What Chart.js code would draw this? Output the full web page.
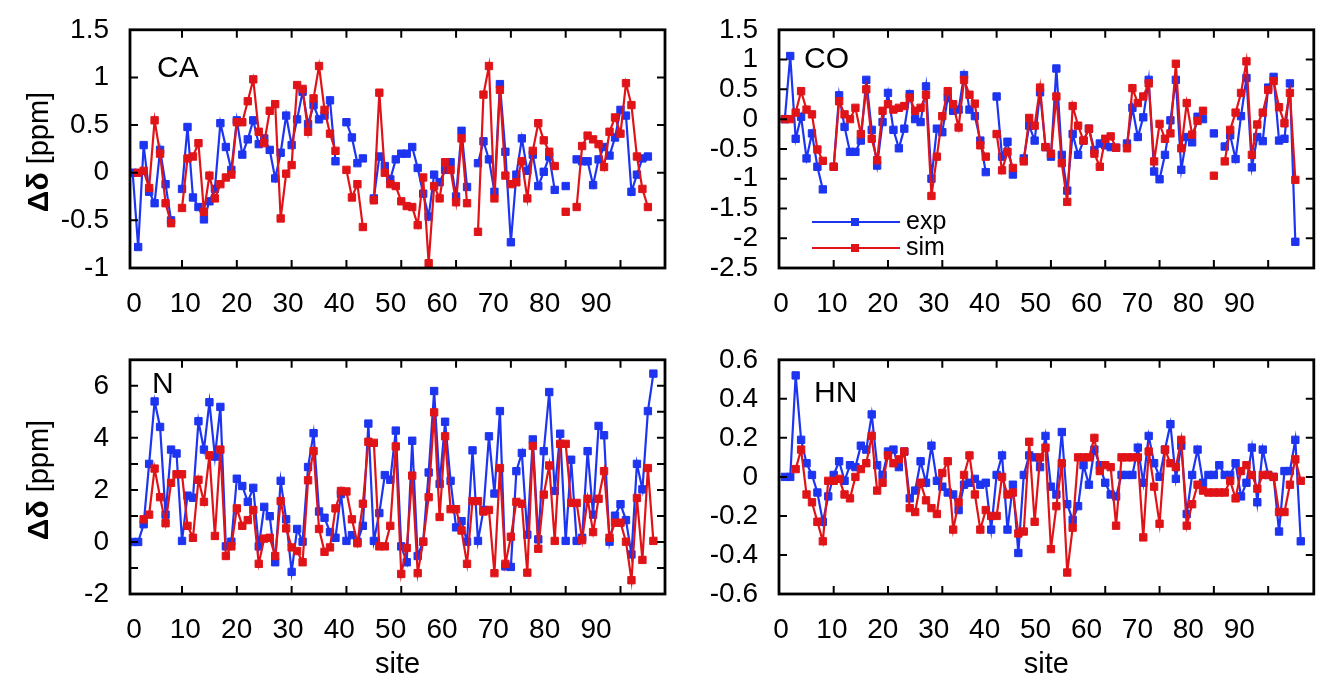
<!DOCTYPE html>
<html>
<head>
<meta charset="utf-8">
<script src="https://cdn.jsdelivr.net/npm/chart.js@4.4.1/dist/chart.umd.min.js"></script>
<style>
  html, body { margin: 0; padding: 0; background: #fff; }
  #wrap { position: relative; width: 1320px; height: 682px; overflow: hidden; }
  canvas { position: absolute; }
</style>
</head>
<body>
<div id="wrap">
  <canvas id="ca" width="680" height="330" style="left:0;top:0"></canvas>
  <canvas id="co" width="640" height="330" style="left:680px;top:0"></canvas>
  <canvas id="n" width="680" height="352" style="left:0;top:330px"></canvas>
  <canvas id="hn" width="640" height="352" style="left:680px;top:330px"></canvas>
</div>
<script>
const sites = [1,2,3,4,5,6,7,8,9,10,11,12,13,14,15,16,17,18,19,20,21,22,23,24,25,26,27,28,29,30,
  31,32,33,34,35,36,37,38,39,40,41,42,43,44,45,46,47,48,49,50,51,52,53,54,55,56,57,58,59,60,
  61,62,63,64,65,66,67,68,69,70,71,72,73,74,75,76,77,78,79,80,81,82,83,84,85,86,87,88,89,90,
  91,92,93,94,95,96];
const siteTicks = [10,20,30,40,50,60,70,80,90];
const siteLabels = [0,10,20,30,40,50,60,70,80,90];

// CA
const caExp = [0,-0.78,0.29,-0.2,-0.32,0.24,-0.12,-0.5,null,-0.17,
  0.48,-0.26,-0.36,-0.49,-0.3,-0.17,0.52,0.27,0.03,0.55,
  0.19,0.35,0.55,0.3,0.36,0.24,-0.06,0.21,0.6,0.29,
  0.56,0.85,0.51,0.71,0.56,0.6,0.76,0.12,null,0.53,
  0.37,0.1,0.15,null,-0.27,0.17,0.07,-0.07,0.14,0.2,
  0.2,0.27,0.05,-0.22,-0.46,-0.02,-0.1,0.03,0.11,-0.25,
  0.44,-0.15,null,0.1,0.33,0.14,-0.2,0.93,0.22,-0.73,
  -0.02,0.36,0.02,0.19,-0.14,0.01,0.17,-0.18,null,-0.14,
  null,0.14,0.12,0.12,-0.13,0.14,0.27,0.18,0.37,0.66,
  0.6,-0.2,-0.02,0.15,0.17,null];
const caSim = [null,0,0.02,-0.16,0.55,0.2,-0.32,-0.53,null,-0.37,
  0.15,0.17,0.31,-0.41,-0.03,-0.27,-0.12,-0.05,-0.02,0.53,
  0.53,0.75,0.98,0.43,0.31,0.65,0.72,-0.48,-0.01,0.08,
  0.92,0.88,0.43,0.78,1.12,0.66,0.41,0.23,null,0.03,
  -0.26,-0.12,-0.57,null,-0.29,0.84,0,-0.12,-0.14,-0.3,
  -0.35,-0.36,-0.55,-0.05,-0.95,-0.14,-0.27,0.11,0.03,-0.31,
  0.36,-0.32,null,-0.62,0.82,1.12,-0.27,0.87,-0.03,-0.12,
  -0.1,0.12,-0.27,0.23,0.52,0.34,0.22,0.07,null,-0.41,
  null,-0.36,0.28,0.39,0.35,0.3,0.06,0.43,0.58,0.41,
  0.94,0.71,0.17,-0.17,-0.36,null];

// CO
const coExp = [0,1.06,-0.33,0.04,-0.66,-0.24,-0.8,-1.18,null,-0.8,
  0.4,-0.13,-0.55,-0.55,-0.36,0.66,-0.18,-0.78,-0.05,0.44,
  -0.18,-0.49,-0.16,0.42,0,-0.05,0.55,-1.0,-0.16,-0.22,
  0.36,0.14,0.16,0.74,0.16,0.05,-0.36,-0.89,null,0.38,
  -0.63,-0.38,-0.93,null,-0.66,-0.11,-0.36,0.45,-0.47,-0.63,
  0.85,-0.6,-1.2,-0.25,-0.6,-0.36,-0.16,-0.52,-0.41,-0.44,
  -0.47,-0.48,null,-0.41,0.19,-0.3,0.03,0.66,-0.88,-1.01,
  -0.6,-0.02,0.66,-0.85,-0.3,-0.39,0.04,0,null,-0.24,
  null,-0.46,-0.27,-0.67,0.05,0.69,-0.81,-0.3,-0.37,0.53,
  0.71,-0.36,-0.33,0.6,-2.06,null];
const coSim = [0,0,0.11,0.47,0.16,0.08,-0.51,-0.7,null,-0.8,
  0.3,0.08,0,0.19,-0.25,0.5,-0.33,-0.69,0.14,0.25,
  0.16,0.19,0.22,0.36,0.14,0.19,0.41,-1.29,-0.63,0.05,
  0.47,0.25,-0.14,0.66,0.41,0.26,-0.44,-0.63,null,-0.25,
  -0.86,-0.55,-0.82,null,-0.71,0.02,-0.11,0.53,-0.47,-0.58,
  0.38,-0.74,-1.39,0.22,-0.11,-0.36,-0.16,-0.58,-0.8,-0.33,
  -0.29,-0.48,null,-0.49,0.52,0.27,0.38,0.6,-0.71,-0.08,
  -0.33,-0.24,0.93,-0.49,0.27,-0.26,-0.03,0.14,null,-0.95,
  null,-0.71,-0.18,0.11,0.44,0.97,-0.6,-0.09,0.11,0.49,
  0.64,0.2,-0.07,0.44,-1.02,null];

// N
const nExp = [0,0,0.68,3.0,5.4,4.42,1.05,3.55,3.4,0.04,
  1.78,1.7,4.64,3.55,5.37,3.28,5.19,-0.17,0.01,2.43,
  2.15,1.54,2.08,-0.17,1.35,0.99,-0.78,2.35,0.87,-1.15,
  0.5,0.01,2.88,4.18,1.17,0.93,0.38,0.16,1.84,0.04,
  0.26,0.01,0.62,4.55,0.04,1.11,2.57,2.39,4.28,-0.17,
  -0.78,3.89,-0.54,0.01,2.67,5.8,2.23,4.62,2.35,0.56,
  0.8,0.01,3.52,0.04,1.23,4.06,1.86,5.03,-0.94,-0.96,
  2.72,3.42,0.28,3.94,0.1,3.49,5.76,1.96,4.16,0.04,
  3.16,0.04,0.16,3.49,1.05,4.46,4.1,0.01,1.01,1.45,
  0.84,-0.48,3.0,2.02,5.03,6.47];
const nSim = [null,null,0.87,1.05,2.82,1.72,0.72,2.27,2.6,2.6,
  0.62,0.16,2.39,1.54,3.33,0.23,3.55,-0.54,-0.17,1.29,
  0.62,0.84,1.23,-0.84,0.13,0.16,-0.54,1.57,0.52,-0.21,
  -0.35,-0.78,2.37,3.49,0.5,-0.38,-0.21,1.29,1.96,1.94,
  0.87,-0.05,1.47,3.85,3.81,-0.17,-0.17,0.62,3.67,-1.23,
  -0.23,2.55,-1.2,0.01,1.72,4.98,0.96,4.06,1.26,1.26,
  0.44,-0.84,1.57,1.57,1.17,1.23,-1.2,2.84,-0.84,0.2,
  1.54,1.47,-1.18,3.69,-0.26,1.82,2.94,0.04,3.77,3.77,
  1.5,1.5,0.07,1.66,0.38,1.66,2.72,0.16,0.74,0.74,
  0.01,-1.47,1.69,-0.69,2.84,0.04];

// HN
const hnExp = [0,0,0.52,0.19,0.07,0.01,-0.08,-0.23,-0.1,0.01,
  0.08,-0.02,0.06,0.05,0.16,0.14,0.32,0.06,0.01,0.13,
  0.14,0.05,0.13,-0.11,-0.07,0.08,-0.03,0.16,-0.02,-0.05,
  -0.08,-0.09,-0.17,-0.04,-0.03,-0.01,-0.04,-0.03,-0.27,0.01,
  0.11,-0.27,-0.04,-0.39,0.01,0.11,0.1,0.05,0.21,-0.05,
  -0.09,0.23,-0.14,-0.22,-0.15,0.06,-0.04,0.14,0.06,-0.03,
  -0.09,-0.1,0.01,0.01,0.01,0.15,-0.03,0.21,0.07,0,
  0.14,0.27,-0.01,0.16,-0.19,0.01,0.14,-0.03,0.01,0.01,
  0.06,0.01,0.01,0.07,-0.1,-0.03,0.15,-0.13,0.14,0.01,
  0,-0.28,0.03,0.03,0.19,-0.33];
const hnSim = [null,null,0.04,0.14,-0.09,-0.13,-0.23,-0.33,-0.02,-0.02,
  -0.01,-0.09,-0.11,0,0.04,0.07,0.21,-0.07,-0.03,0.11,
  0.07,0.09,0.13,-0.16,-0.18,-0.03,-0.12,-0.16,-0.19,0.02,
  0.08,-0.27,-0.13,0.01,0.11,-0.09,-0.27,-0.17,-0.2,-0.2,
  0,-0.09,-0.08,-0.29,-0.28,0.18,-0.23,0.1,0.15,-0.37,
  -0.15,0.07,-0.49,-0.26,0.1,0.1,0.1,0.2,0.03,0.06,
  0.05,-0.25,0.1,0.1,0.1,0.1,-0.31,0.13,-0.05,-0.24,
  0.14,0.07,0.05,0.19,-0.25,-0.14,-0.04,-0.07,-0.08,-0.08,
  -0.08,-0.08,-0.02,-0.11,0.03,0.06,0.01,-0.06,0.01,0.01,
  0,-0.18,-0.18,-0.04,0.09,-0.02];

const BLUE = '#1d34f0';
const RED = '#e01418';
const FONT = '"Liberation Sans", Arial, sans-serif';

function fmt(v) {
  return String(Math.round(v * 10) / 10);
}

const panelPlugin = {
  id: 'panel',
  afterDraw(chart, args, o) {
    const { ctx, chartArea: a, scales } = chart;
    ctx.save();
    ctx.strokeStyle = '#000';
    ctx.lineWidth = 2;
    const tl = 8;
    ctx.beginPath();
    siteTicks.forEach(v => {
      const px = scales.x.getPixelForValue(v);
      ctx.moveTo(px, a.bottom); ctx.lineTo(px, a.bottom - tl);
      ctx.moveTo(px, a.top); ctx.lineTo(px, a.top + tl);
    });
    scales.y.ticks.forEach(t => {
      if (t.value <= scales.y.min + 1e-9 || t.value >= scales.y.max - 1e-9) return;
      const py = scales.y.getPixelForValue(t.value);
      ctx.moveTo(a.left, py); ctx.lineTo(a.left + tl, py);
      ctx.moveTo(a.right, py); ctx.lineTo(a.right - tl, py);
    });
    ctx.stroke();
    ctx.lineWidth = 2.8;
    ctx.strokeRect(a.left, a.top, a.right - a.left, a.bottom - a.top);

    // panel name
    ctx.fillStyle = '#000';
    ctx.font = '30px ' + FONT;
    ctx.textBaseline = 'alphabetic';
    ctx.textAlign = 'left';
    ctx.fillText(o.name, o.nx, o.ny);

    // y title, with bold delta
    if (o.ytitle) {
      ctx.translate(o.tx, o.ty);
      ctx.rotate(-Math.PI / 2);
      ctx.textBaseline = 'middle';
      const f1 = 'bold 30px ' + FONT, f2 = '29px ' + FONT;
      ctx.font = f1; const w1 = ctx.measureText('\u0394\u03b4').width;
      ctx.font = f2; const w2 = ctx.measureText(' [ppm]').width;
      const x0 = -(w1 + w2) / 2;
      ctx.font = f1; ctx.fillText('\u0394\u03b4', x0, 0);
      ctx.font = f2; ctx.fillText(' [ppm]', x0 + w1, 0);
      ctx.setTransform(1, 0, 0, 1, 0, 0);
    }

    // legend
    if (o.legend) {
      const items = [['exp', BLUE, 222], ['sim', RED, 248]];
      ctx.font = '25px ' + FONT;
      ctx.textBaseline = 'middle';
      items.forEach(([txt, col, y]) => {
        ctx.strokeStyle = col; ctx.fillStyle = col; ctx.lineWidth = 2;
        ctx.beginPath(); ctx.moveTo(132, y); ctx.lineTo(220, y); ctx.stroke();
        ctx.fillRect(171, y - 4, 8, 8);
        ctx.fillStyle = '#000';
        ctx.fillText(txt, 226, y);
      });
    }
    ctx.restore();
  }
};

function series(label, vals, color, order) {
  return {
    label: label,
    data: sites.map((s, i) => ({ x: s, y: vals[i] })),
    borderColor: color,
    backgroundColor: color,
    borderWidth: 2.2,
    pointStyle: 'rect',
    pointRadius: 5.2,
    pointBorderWidth: 1,
    spanGaps: false,
    tension: 0,
    order: order
  };
}

function makePanel(id, c) {
  return new Chart(document.getElementById(id), {
    type: 'line',
    data: { datasets: [series('exp', c.exp, BLUE, 1), series('sim', c.sim, RED, 0)] },
    options: {
      responsive: false,
      animation: false,
      layout: { padding: { top: c.padTop, right: c.padRight, left: 0, bottom: 0 } },
      plugins: { legend: { display: false }, tooltip: { enabled: false }, panel: c.panel },
      scales: {
        x: { type: 'linear', display: false, min: c.xmin, max: c.xmax },
        xl: {
          type: 'linear', position: 'bottom', min: c.lmin, max: c.lmax,
          grid: { display: false }, border: { display: false },
          afterBuildTicks: s => { s.ticks = siteLabels.map(v => ({ value: v })); },
          afterFit: s => { s.height = c.xh; },
          ticks: { font: { family: FONT, size: 28 }, color: '#000', padding: c.xpad, maxRotation: 0, autoSkip: false },
          title: { display: c.site, text: 'site', font: { family: FONT, size: 29 }, color: '#000', padding: 0 }
        },
        y: {
          position: 'left', min: c.ymin, max: c.ymax,
          grid: { display: false }, border: { display: false },
          afterFit: s => { s.width = c.yw; },
          ticks: {
            stepSize: c.ystep, autoSkip: false, font: { family: FONT, size: 28 }, color: '#000', padding: 13,
            callback: c.ylab
          }
        }
      }
    },
    plugins: [panelPlugin]
  });
}

makePanel('ca', {
  exp: caExp, sim: caSim,
  padTop: 23, padRight: 15, yw: 130, xh: 62, xpad: 11, site: false,
  xmin: 0.51, xmax: 98.12, lmin: -0.78, lmax: 103.45,
  ymin: -1, ymax: 1.5, ystep: 0.5, ylab: v => fmt(v),
  panel: { name: 'CA', nx: 157, ny: 77, ytitle: true, tx: 40, ty: 152 }
});
makePanel('co', {
  exp: coExp, sim: coSim,
  padTop: 23, padRight: 3, yw: 99, xh: 62, xpad: 11, site: false,
  xmin: -0.07, xmax: 98.4, lmin: -0.39, lmax: 104.65,
  ymin: -2.5, ymax: 1.5, ystep: 0.5, ylab: v => fmt(v),
  panel: { name: 'CO', nx: 124, ny: 68, legend: true }
});
makePanel('n', {
  exp: nExp, sim: nSim,
  padTop: 19, padRight: 15, yw: 130, xh: 88, xpad: 11, site: true,
  xmin: 0.51, xmax: 98.12, lmin: -0.78, lmax: 103.45,
  ymin: -2, ymax: 7, ystep: 1, ylab: v => (Math.round(v) % 2 === 0 ? String(Math.round(v)) : ''),
  panel: { name: 'N', nx: 152, ny: 63, ytitle: true, tx: 40, ty: 150 }
});
makePanel('hn', {
  exp: hnExp, sim: hnSim,
  padTop: 20, padRight: 3, yw: 99, xh: 88, xpad: 11, site: true,
  xmin: -0.07, xmax: 98.4, lmin: -0.39, lmax: 104.65,
  ymin: -0.6, ymax: 0.6, ystep: 0.2, ylab: v => fmt(v),
  panel: { name: 'HN', nx: 134, ny: 72 }
});
</script>
</body>
</html>
